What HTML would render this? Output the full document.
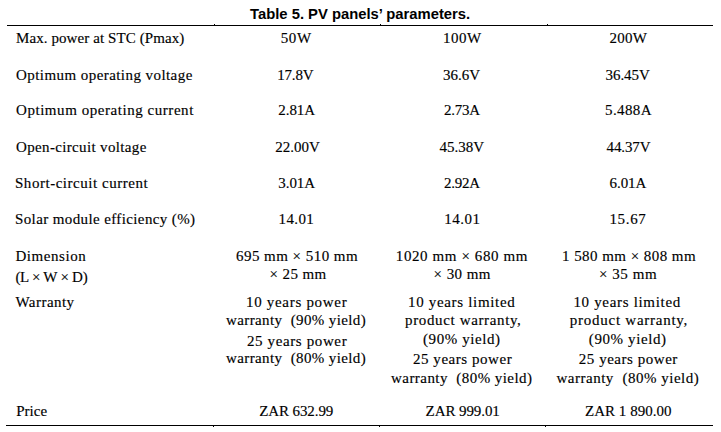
<!DOCTYPE html>
<html><head><meta charset="utf-8"><style>
html,body{margin:0;padding:0;background:#fff;width:721px;height:432px;overflow:hidden;position:relative}
.t{position:absolute;font-family:"Liberation Serif",serif;font-size:15.0px;line-height:20px;color:#000;white-space:pre;-webkit-text-stroke:0.15px #000}
.title{position:absolute;left:250px;top:5px;font-family:"Liberation Sans",sans-serif;font-weight:bold;font-size:14.8px;line-height:18px;color:#000;white-space:pre}
.r{position:absolute;height:1px;background:#000}
</style></head><body>
<div class="title">Table 5. PV panels’ parameters.</div>
<div class="r" style="left:7px;width:706px;top:25px"></div>
<div class="r" style="left:6px;width:707px;top:425px"></div>
<div class="r" style="left:214px;width:1px;top:24px"></div>
<div class="r" style="left:380px;width:1px;top:24px"></div>
<div class="r" style="left:547px;width:1px;top:24px"></div>
<div class="r" style="left:213px;width:1px;top:426px"></div>
<div class="r" style="left:379px;width:1px;top:426px"></div>
<div class="r" style="left:545px;width:1px;top:426px"></div>

<div class="t" style="left:16.00px;top:28px;letter-spacing:0.087px;">Max. power at STC (Pmax)</div>
<div class="t" style="left:280.80px;top:28px;letter-spacing:0.550px;">50W</div>
<div class="t" style="left:443.00px;top:28px;letter-spacing:0.500px;">100W</div>
<div class="t" style="left:609.60px;top:28px;letter-spacing:0.200px;">200W</div>
<div class="t" style="left:16.00px;top:65px;letter-spacing:0.438px;">Optimum operating voltage</div>
<div class="t" style="left:277.20px;top:65px;letter-spacing:-0.175px;">17.8V</div>
<div class="t" style="left:443.00px;top:65px;">36.6V</div>
<div class="t" style="left:605.60px;top:65px;letter-spacing:-0.080px;">36.45V</div>
<div class="t" style="left:16.00px;top:100px;letter-spacing:0.550px;">Optimum operating current</div>
<div class="t" style="left:278.20px;top:100px;letter-spacing:-0.025px;">2.81A</div>
<div class="t" style="left:444.00px;top:100px;letter-spacing:-0.250px;">2.73A</div>
<div class="t" style="left:605.00px;top:100px;letter-spacing:0.400px;">5.488A</div>
<div class="t" style="left:16.00px;top:137px;letter-spacing:0.347px;">Open-circuit voltage</div>
<div class="t" style="left:275.20px;top:137px;">22.00V</div>
<div class="t" style="left:439.60px;top:137px;">45.38V</div>
<div class="t" style="left:606.60px;top:137px;letter-spacing:-0.140px;">44.37V</div>
<div class="t" style="left:15.00px;top:173px;letter-spacing:0.530px;">Short-circuit current</div>
<div class="t" style="left:278.20px;top:173px;letter-spacing:-0.025px;">3.01A</div>
<div class="t" style="left:444.00px;top:173px;letter-spacing:-0.275px;">2.92A</div>
<div class="t" style="left:609.60px;top:173px;letter-spacing:-0.100px;">6.01A</div>
<div class="t" style="left:15.00px;top:209px;letter-spacing:0.385px;">Solar module efficiency (%)</div>
<div class="t" style="left:278.60px;top:209px;letter-spacing:0.375px;">14.01</div>
<div class="t" style="left:444.20px;top:209px;letter-spacing:0.525px;">14.01</div>
<div class="t" style="left:609.40px;top:209px;letter-spacing:0.675px;">15.67</div>
<div class="t" style="left:15.40px;top:246px;letter-spacing:0.562px;">Dimension</div>
<div class="t" style="left:236.00px;top:246px;letter-spacing:0.464px;">695 mm × 510 mm</div>
<div class="t" style="left:395.80px;top:246px;letter-spacing:0.600px;">1020 mm × 680 mm</div>
<div class="t" style="left:562.00px;top:246px;letter-spacing:0.450px;">1 580 mm × 808 mm</div>
<div class="t" style="left:15.40px;top:267px;letter-spacing:-0.270px;">(L × W × D)</div>
<div class="t" style="left:269.60px;top:264px;letter-spacing:0.400px;">× 25 mm</div>
<div class="t" style="left:433.60px;top:264px;letter-spacing:0.417px;">× 30 mm</div>
<div class="t" style="left:599.00px;top:264px;letter-spacing:0.550px;">× 35 mm</div>
<div class="t" style="left:15.40px;top:292px;letter-spacing:0.471px;">Warranty</div>
<div class="t" style="left:246.00px;top:292px;letter-spacing:0.692px;">10 years power</div>
<div class="t" style="left:408.00px;top:292px;letter-spacing:0.673px;">10 years limited</div>
<div class="t" style="left:573.40px;top:292px;letter-spacing:0.680px;">10 years limited</div>
<div class="t" style="left:226.00px;top:310px;letter-spacing:0.385px;">warranty  (90% yield)</div>
<div class="t" style="left:405.00px;top:310px;letter-spacing:0.638px;">product warranty,</div>
<div class="t" style="left:569.80px;top:310px;letter-spacing:0.744px;">product warranty,</div>
<div class="t" style="left:247.00px;top:331px;letter-spacing:0.615px;">25 years power</div>
<div class="t" style="left:423.00px;top:329px;letter-spacing:0.580px;">(90% yield)</div>
<div class="t" style="left:588.80px;top:329px;letter-spacing:0.600px;">(90% yield)</div>
<div class="t" style="left:226.00px;top:348px;letter-spacing:0.385px;">warranty  (80% yield)</div>
<div class="t" style="left:413.00px;top:349px;letter-spacing:0.538px;">25 years power</div>
<div class="t" style="left:578.80px;top:349px;letter-spacing:0.531px;">25 years power</div>
<div class="t" style="left:391.00px;top:368px;letter-spacing:0.450px;">warranty  (80% yield)</div>
<div class="t" style="left:556.40px;top:368px;letter-spacing:0.520px;">warranty  (80% yield)</div>
<div class="t" style="left:16.20px;top:401px;letter-spacing:0.025px;">Price</div>
<div class="t" style="left:259.20px;top:401px;letter-spacing:-0.100px;">ZAR 632.99</div>
<div class="t" style="left:425.60px;top:401px;letter-spacing:-0.089px;">ZAR 999.01</div>
<div class="t" style="left:585.00px;top:401px;letter-spacing:0.027px;">ZAR 1 890.00</div>
</body></html>
